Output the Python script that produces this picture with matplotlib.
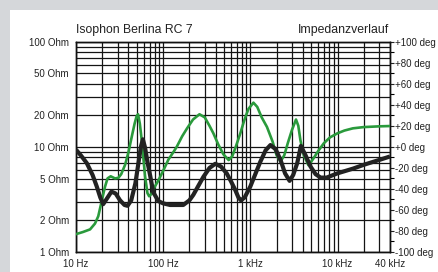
import numpy as np
import matplotlib
matplotlib.use('Agg')
import matplotlib.pyplot as plt
from matplotlib.ticker import FixedLocator, FixedFormatter, MultipleLocator
from matplotlib.patches import Rectangle

plt.rcParams['font.family'] = ['Liberation Sans', 'DejaVu Sans']

# impedance (black)
imp_freq = [10, 11.5, 13.3, 15.5, 17.3, 19, 20.5, 22.5, 25.5, 28.5, 32, 36, 39, 43, 48, 52,
            55.5, 58.5, 62, 66, 71, 77, 88, 100, 120, 170, 200, 222, 255, 290, 340, 396,
            460, 535, 600, 670, 730, 780, 860, 1000, 1150, 1300, 1500, 1700, 1950, 2220,
            2500, 2820, 3100, 3450, 3800, 4300, 4900, 5600, 6400, 7500, 10000, 15000,
            20000, 30000, 40000]
imp_ohm = [9.4, 8.2, 7.0, 5.4, 4.2, 3.3, 2.85, 3.2, 3.75, 3.6, 3.1, 2.8, 2.75, 3.1, 4.5, 7.0,
           10.0, 11.8, 9.8, 7.2, 5.3, 3.7, 3.05, 2.9, 2.8, 2.8, 3.1, 3.5, 4.3, 5.2, 6.3, 6.9,
           6.5, 5.6, 4.7, 3.9, 3.3, 3.1, 3.3, 4.2, 5.6, 7.2, 9.3, 10.4, 9.5, 7.5,
           5.6, 4.75, 5.4, 7.0, 10.2, 8.3, 6.5, 5.5, 5.1, 5.1, 5.6, 6.2,
           6.75, 7.5, 8.1]

# phase (green)
ph_freq = [10, 12, 14.5, 16.5, 18, 19.8, 21.5, 23, 25, 28, 30.6, 33, 36.6, 40, 43.6, 47,
           49.5, 51.5, 54, 57, 59, 62, 66, 69, 73, 80, 88, 101, 115, 131, 143, 165, 188,
           220, 261, 300, 340, 377, 430, 490, 564, 620, 680, 767, 850, 950, 1085, 1200,
           1350, 1550, 1800, 2000, 2220, 2450, 2700, 3000, 3340, 3550, 3750, 4100, 4640,
           5200, 6000, 6950, 8200, 9930, 12000, 15000, 20000, 30000, 40000]
ph_deg = [-83, -81, -78.5, -73, -66, -51, -38, -30, -28, -30, -29.5, -26, -17, -5, 9.6, 22,
          29, 31, 22, 5, -9, -28, -44, -47, -45, -38, -32, -22, -12, -5, 0, 10, 17.6,
          26, 31, 28, 20, 12.8, 2, -7, -12.6, -9, 0, 12.8, 25, 36, 42, 38,
          28, 19, 5, -8, -14, -8, 4, 16, 26, 20, 6.5, -8, -17.5,
          -12, -4, 3.3, 9, 12.8, 15.5, 17.6, 18.8, 19.5, 19.8]

x_ticks = [10, 100, 1000, 10000, 40000]
x_labels = ['10 Hz', '100 Hz', '1 kHz', '10 kHz', '40 kHz']
y_ticks = [1, 2, 5, 10, 20, 50, 100]
y_labels = ['1 Ohm', '2 Ohm', '5 Ohm', '10 Ohm', '20 Ohm', '50 Ohm', '100 Ohm']
deg_ticks = [-100, -80, -60, -40, -20, 0, 20, 40, 60, 80, 100]
deg_labels = ['%+d deg' % d for d in deg_ticks]

fig = plt.figure(figsize=(4.39, 2.72), dpi=100)
fig.patch.set_facecolor('#d5d7da')
fig.patches.append(Rectangle((10 / 439, 0), 1, 262 / 272, transform=fig.transFigure,
                             facecolor='white', edgecolor='none', zorder=-5))

ax = fig.add_axes([76 / 439, 20 / 272, 314 / 439, 210.3 / 272])
ax.set_xscale('log')
ax.set_yscale('log')
ax.set_xlim(10, 40000)
ax.set_ylim(1, 100)

# log grid, black
xgrid = [m * 10 ** e for e in range(1, 5) for m in range(1, 10) if m * 10 ** e <= 40000]
ygrid = [m * 10 ** e for e in range(0, 2) for m in range(1, 10)] + [100]
for g in xgrid:
    ax.axvline(g, color='#141414', lw=0.9, zorder=1)
for g in ygrid:
    ax.axhline(g, color='#141414', lw=0.9, zorder=1)

ax.xaxis.set_major_locator(FixedLocator(x_ticks))
ax.xaxis.set_major_formatter(FixedFormatter(x_labels))
ax.xaxis.set_minor_locator(FixedLocator([]))
ax.yaxis.set_major_locator(FixedLocator(y_ticks))
ax.yaxis.set_major_formatter(FixedFormatter(y_labels))
ax.yaxis.set_minor_locator(FixedLocator([]))
ax.tick_params(axis='both', length=0, labelsize=7, colors='#222222')
ax.tick_params(axis='x', pad=5)
ax.tick_params(axis='y', pad=5)

ax2 = ax.twinx()
ax2.set_ylim(-100, 100)
ax2.yaxis.set_major_locator(FixedLocator(deg_ticks))
ax2.yaxis.set_major_formatter(FixedFormatter(deg_labels))
ax2.yaxis.set_minor_locator(MultipleLocator(10))
ax2.tick_params(axis='y', which='major', length=3, width=0.8, pad=0.5, labelsize=7,
                colors='#222222')
ax2.tick_params(axis='y', which='minor', length=3, width=0.8)

ax2.plot(ph_freq, ph_deg, color='#2a9a3c', lw=1.9, solid_joinstyle='round', zorder=3)
ax2.plot(imp_freq, imp_ohm, color='#222222', lw=3.0, solid_joinstyle='round',
         solid_capstyle='butt', transform=ax.transData, zorder=4)

for a in (ax, ax2):
    for s in a.spines.values():
        s.set_color('#111111')
        s.set_linewidth(1.0)

fig.text(76 / 439, 1 - 33 / 272, 'Isophon Berlina RC 7', fontsize=8.8, color='#222222',
         ha='left', va='baseline')
fig.text(389 / 439, 1 - 33 / 272, 'Impedanzverlauf', fontsize=8.8, color='#222222',
         ha='right', va='baseline')

fig.savefig('out.png', dpi=100, facecolor=fig.get_facecolor())
